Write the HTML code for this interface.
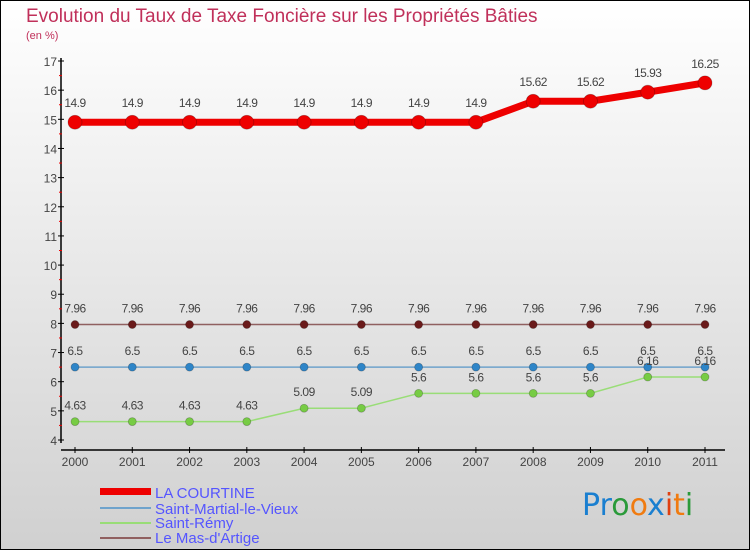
<!DOCTYPE html>
<html><head><meta charset="utf-8"><style>
body{margin:0}
#c{width:750px;height:550px;position:relative;overflow:hidden;font-family:"Liberation Sans",sans-serif}
</style></head><body>
<div id="c">
<svg id="s" width="750" height="550" xmlns="http://www.w3.org/2000/svg">
<defs><linearGradient id="bg" x1="0" y1="0" x2="0" y2="1"><stop offset="0" stop-color="#ffffff"/><stop offset="1" stop-color="#d0d0d0"/></linearGradient></defs>
<rect x="0.5" y="0.5" width="749" height="549" fill="url(#bg)" stroke="#000"/>
<text x="26" y="22" font-size="19" fill="#c0305a">Evolution du Taux de Taxe Foncière sur les Propriétés Bâties</text>
<text x="26" y="39" font-size="11" fill="#c0305a">(en %)</text>
<g id="axes"></g><g id="series"></g>
<g font-size="15" fill="#5555ff">
<rect x="100" y="488" width="51" height="7" fill="#e00"/>
<text x="155" y="498">LA COURTINE</text>
<rect x="100" y="507" width="51" height="2" fill="#6fa3cc"/>
<text x="155" y="514">Saint-Martial-le-Vieux</text>
<rect x="100" y="522" width="51" height="2" fill="#99dd77"/>
<text x="155" y="528">Saint-Rémy</text>
<rect x="100" y="537" width="51" height="2" fill="#906060"/>
<text x="155" y="543">Le Mas-d'Artige</text>
</g>
<g font-size="30" font-family="DejaVu Sans, sans-serif">
<text x="582" y="515"><tspan fill="#1a7fd0">Pr</tspan><tspan fill="#2a9a3a">o</tspan><tspan fill="#f07b10">o</tspan><tspan fill="#1a7fd0">x</tspan><tspan fill="#e04010">i</tspan><tspan fill="#f07b10">t</tspan><tspan fill="#2a9a3a">i</tspan></text>
</g>
</svg>
</div>
<script>
const years=["2000","2001","2002","2003","2004","2005","2006","2007","2008","2009","2010","2011"];
const yTicks=[4,5,6,7,8,9,10,11,12,13,14,15,16,17];
const courtine=[14.9,14.9,14.9,14.9,14.9,14.9,14.9,14.9,15.62,15.62,15.93,16.25];
const martial=[6.5,6.5,6.5,6.5,6.5,6.5,6.5,6.5,6.5,6.5,6.5,6.5];
const remy=[4.63,4.63,4.63,4.63,5.09,5.09,5.6,5.6,5.6,5.6,6.16,6.16];
const mas=[7.96,7.96,7.96,7.96,7.96,7.96,7.96,7.96,7.96,7.96,7.96,7.96];
const NS="http://www.w3.org/2000/svg";
const X=i=>75+i*(630/(years.length-1));
const Y=v=>440-(v-4)*(379/13);
function mk(t,a,p){const e=document.createElementNS(NS,t);for(const k in a)e.setAttribute(k,a[k]);p.appendChild(e);return e;}
const ax=document.getElementById('axes');
const yl=mk('line',{x1:61,y1:58,x2:61,y2:443,stroke:'#000','stroke-width':1.5},ax);


const xl=mk('line',{x1:61,y1:450,x2:725,y2:450,stroke:'#000','stroke-width':1.5},ax);


yTicks.forEach(v=>{const y=Y(v);
mk('line',{x1:58,y1:y,x2:64,y2:y,stroke:'#000'},ax);
if(v<17)mk('line',{x1:59,y1:Y(v+0.5),x2:62,y2:Y(v+0.5),stroke:'#e00'},ax);
const t=mk('text',{x:57,y:y+5,'font-size':12,'text-anchor':'end',fill:'#444'},ax);t.textContent=v;

});
years.forEach((yr,i)=>{const x=X(i);
mk('line',{x1:x,y1:447,x2:x,y2:453,stroke:'#000'},ax);
const t=mk('text',{x:x,y:466,'font-size':12,'text-anchor':'middle',fill:'#444'},ax);t.textContent=yr;

});
const sg=document.getElementById('series');
function fmt(v){return String(v).replace('.','.');}
function series(name,vals,color,dot,w,r){
const g=mk('g',{},sg);


mk('polyline',{points:vals.map((v,i)=>X(i)+','+Y(v)).join(' '),fill:'none',stroke:color,'stroke-width':w},g);
vals.forEach((v,i)=>{const c=mk('circle',{cx:X(i),cy:Y(v),r:r,fill:dot,stroke:'rgba(0,0,0,0.25)','stroke-width':0.8},g);


const t=mk('text',{x:X(i),y:Y(v)-(r+8),'font-size':12,'text-anchor':'middle',fill:'#444','letter-spacing':'-0.5'},g);t.textContent=fmt(v);

});}
series('le-mas-dartige',mas,'#906060','#6a1a1a',1.5,4);
series('saint-martial',martial,'#6fa3cc','#2e85c8',1.5,4);
series('saint-remy',remy,'#99dd77','#77cc44',1.5,4);
series('la-courtine',courtine,'#ee0000','#ee0000',7,7);
</script>
</body></html>
